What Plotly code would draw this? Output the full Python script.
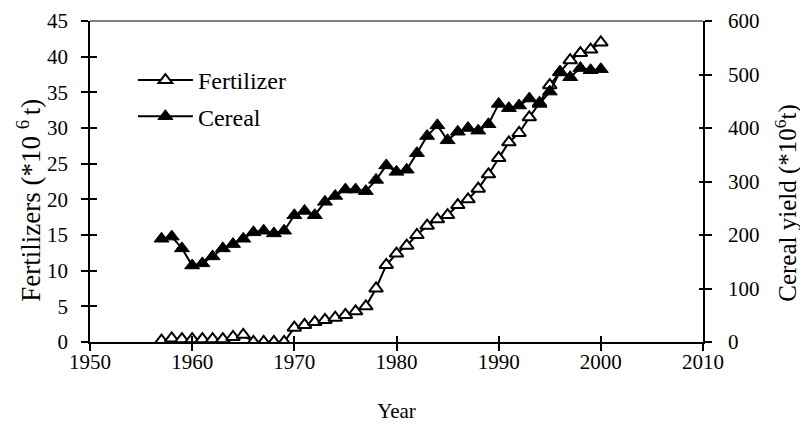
import plotly.graph_objects as go

years = list(range(1957, 2001))
fertilizer = [0.2, 0.5, 0.4, 0.4, 0.4, 0.4, 0.4, 0.7, 1.0, 0.0,
              0.0, 0.0, 0.0, 2.0, 2.4, 2.8, 3.1, 3.4, 3.8, 4.3,
              5.0, 7.5, 10.8, 12.4, 13.5, 15.0, 16.3, 17.2, 17.8, 19.2,
              20.0, 21.5, 23.5, 25.8, 28.0, 29.3, 31.5, 33.5, 36.0, 37.8,
              39.5, 40.5, 41.0, 42.0]
cereal = [193, 197, 175, 143, 147, 160, 175, 183, 193, 205,
          208, 203, 208, 237, 245, 237, 262, 273, 285, 285,
          282, 303, 330, 318, 322, 353, 385, 405, 377, 393,
          400, 395, 407, 445, 437, 442, 455, 445, 468, 505,
          495, 512, 508, 510]

x_ticks = [1950, 1960, 1970, 1980, 1990, 2000, 2010]
left_ticks = [0, 5, 10, 15, 20, 25, 30, 35, 40, 45]
right_ticks = [0, 100, 200, 300, 400, 500, 600]

FONT = "Liberation Serif"
fig = go.Figure()
fig.add_trace(go.Scatter(
    x=years, y=fertilizer, name="Fertilizer", mode="lines+markers",
    line=dict(color="black", width=2),
    marker=dict(symbol="triangle-up", size=12, color="white",
                line=dict(color="black", width=2)),
    legendgroup="a", xaxis="x", yaxis="y"))
fig.add_trace(go.Scatter(
    x=years, y=cereal, name="Cereal", mode="lines+markers",
    line=dict(color="black", width=2),
    marker=dict(symbol="triangle-up", size=13, color="black",
                line=dict(color="black", width=1)),
    legendgroup="b", xaxis="x", yaxis="y2"))

tickfont = dict(family=FONT, size=21, color="black")
common = dict(showgrid=False, zeroline=False, showline=True, linecolor="black",
              linewidth=1.5, ticks="outside", ticklen=7, tickcolor="black",
              tickwidth=1.5, tickfont=tickfont, automargin=False)
overlay = dict(showticklabels=False, showgrid=False, zeroline=False, showline=False,
               tickcolor="black", tickwidth=1.5, ticks="inside", automargin=False)

fig.update_layout(
    width=800, height=424,
    margin=dict(l=82, r=105, t=13, b=90),
    plot_bgcolor="white", paper_bgcolor="white",
    font=dict(family=FONT, size=21, color="black"),
    xaxis=dict(range=[1950, 2010], tickvals=x_ticks, **common, ticklabelstandoff=-7,
               title=dict(text="Year", font=dict(family=FONT, size=21), standoff=30)),
    yaxis=dict(range=[0, 45], tickvals=left_ticks, **common, ticklabelstandoff=9),
    yaxis2=dict(range=[0, 600], tickvals=right_ticks, overlaying="y", side="right",
                **common, ticklabelstandoff=12),
    xaxis2=dict(range=[1950, 2010], tickvals=x_ticks, overlaying="x", ticklen=6,
                anchor="y", **overlay),
    yaxis3=dict(range=[0, 45], tickvals=left_ticks, overlaying="y", ticklen=7,
                anchor="x", **overlay),
    yaxis4=dict(range=[0, 600], tickvals=right_ticks, overlaying="y", side="right",
                ticklen=4, anchor="x", **overlay),
    legend=dict(x=0.07, y=0.885, xanchor="left", yanchor="top",
                bgcolor="rgba(0,0,0,0)", font=dict(family=FONT, size=24),
                tracegroupgap=2, itemwidth=55),
    shapes=[dict(type="line", xref="paper", yref="paper", x0=0, x1=1, y0=1, y1=1,
                 line=dict(color="#808080", width=2))],
    annotations=[
        dict(text="Fertilizers (*10 <sup>6 </sup>t)", textangle=-90,
             xref="paper", yref="paper", x=-0.1, y=0.442,
             xanchor="center", yanchor="middle", showarrow=False,
             font=dict(family=FONT, size=27, color="black")),
        dict(text="Cereal yield (*10<sup>6</sup>t)", textangle=-90,
             xref="paper", yref="paper", x=1.135, y=0.433,
             xanchor="center", yanchor="middle", showarrow=False,
             font=dict(family=FONT, size=25, color="black")),
    ],
)
fig.add_trace(go.Scatter(x=[None], y=[None], xaxis="x2", yaxis="y3", showlegend=False,
                         hoverinfo="skip"))
fig.add_trace(go.Scatter(x=[None], y=[None], xaxis="x", yaxis="y4", showlegend=False,
                         hoverinfo="skip"))
fig.write_html("out.html")
